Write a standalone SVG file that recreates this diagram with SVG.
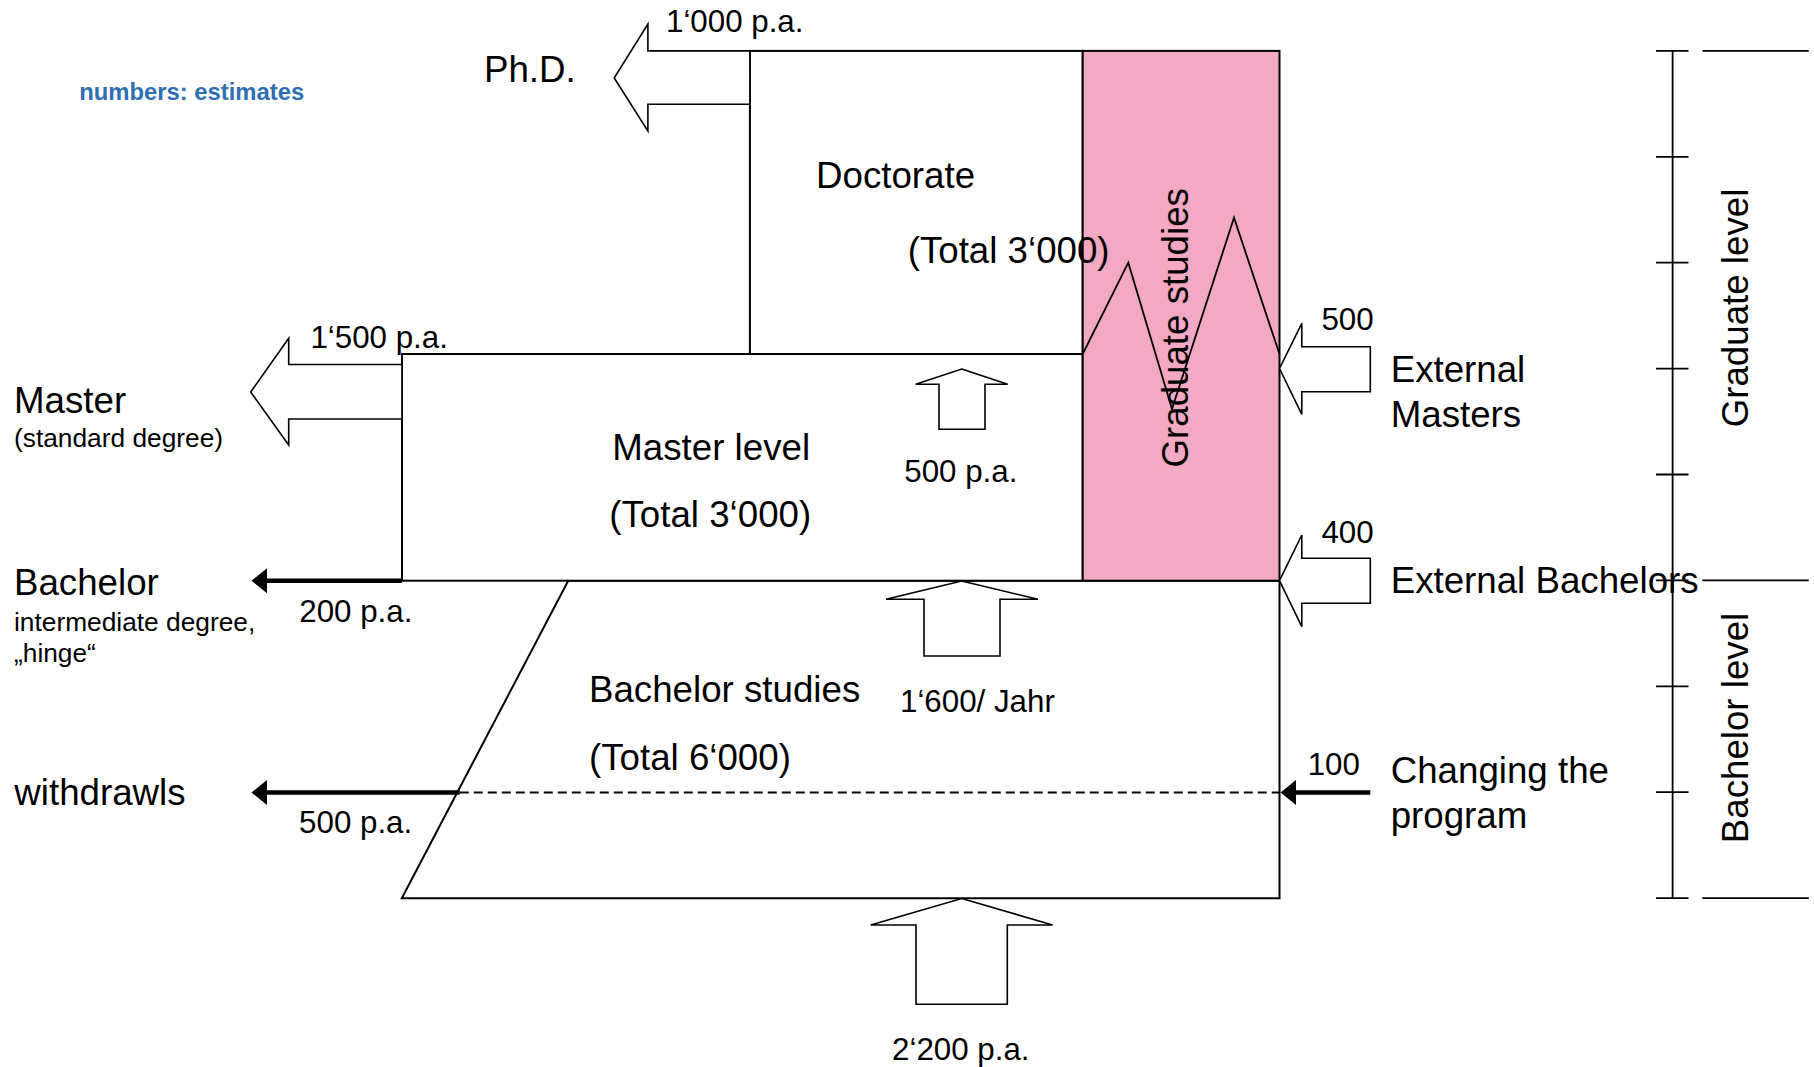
<svg xmlns="http://www.w3.org/2000/svg" width="1814" height="1067" viewBox="0 0 1814 1067">
<style>
text{font-family:"Liberation Sans",Arial,sans-serif;fill:#000}
.big{font-size:36.7px}
.num{font-size:31.3px}
.sub{font-size:26.3px}
.box{fill:#fff;stroke:#000;stroke-width:2}
.blk{fill:#fff;stroke:#000;stroke-width:1.6;stroke-linejoin:miter}
.thick{stroke:#000;stroke-width:4.5;fill:none}
.ln{stroke:#000;stroke-width:1.8;fill:none}
</style>
<defs>
<marker id="ah" markerUnits="userSpaceOnUse" markerWidth="16" markerHeight="26" refX="0" refY="12.5" orient="auto" overflow="visible">
<path d="M0,0 L15.5,12.5 L0,25 Z" fill="#000"/>
</marker>
</defs>
<rect width="1814" height="1067" fill="#fff"/>

<g id="bachelor-studies">
<polygon class="box" points="568.2,580.7 1279.5,580.7 1279.5,898.3 401.8,898.3"/>
<text class="big" x="589" y="701.7">Bachelor studies</text>
<text class="big" x="589" y="770">(Total 6‘000)</text>
</g>

<g id="master-level">
<rect class="box" x="402" y="354" width="680.7" height="226.7"/>
<text class="big" x="612.3" y="460">Master level</text>
<text class="big" x="609.3" y="526.7">(Total 3‘000)</text>
</g>

<g id="doctorate">
<rect class="box" x="749.9" y="50.9" width="332.8" height="303.1"/>
<text class="big" x="816" y="188.3">Doctorate</text>
</g>

<g id="graduate-studies">
<rect x="1082.7" y="50.9" width="196.8" height="529.8" fill="#F3A9C3" stroke="#000" stroke-width="2"/>
<text class="big" transform="translate(1188,327.8) rotate(-90)" text-anchor="middle">Graduate studies</text>
<polyline class="ln" points="1082.7,354 1128.3,262.7 1172,409 1234,217.7 1279.5,354"/>
</g>
<text class="big" x="907.7" y="263.3">(Total 3‘000)</text>

<g id="connectors">
<polygon class="blk" points="614.2,78 647.9,24 647.9,50.9 749.9,50.9 749.9,104.3 647.9,104.3 647.9,131"/>
<polygon class="blk" points="250.7,392 288.7,338.3 288.7,364.5 402,364.5 402,419 288.7,419 288.7,445"/>
<polygon class="blk" points="1279.5,368.5 1301.8,323.3 1301.8,346.7 1370.3,346.7 1370.3,391.7 1301.8,391.7 1301.8,414.3"/>
<polygon class="blk" points="1279.5,580.7 1301.8,535 1301.8,558.3 1370.3,558.3 1370.3,603.3 1301.8,603.3 1301.8,626.7"/>
<polygon class="blk" points="961.7,369 1007.7,384.3 985,384.3 985,429.3 939,429.3 939,384.3 915.7,384.3"/>
<polygon class="blk" points="961.7,581 1038,599.3 1000,599.3 1000,656 924,656 924,599.3 886,599.3"/>
<polygon class="blk" points="961.7,898.5 1052.7,925 1007.3,925 1007.3,1004.3 916,1004.3 916,925 870.7,925"/>
<line class="thick" x1="402" y1="580.7" x2="267" y2="580.7" marker-end="url(#ah)"/>
<line class="thick" x1="459.8" y1="792.5" x2="267" y2="792.5" marker-end="url(#ah)"/>
<line class="thick" x1="1370.3" y1="792.5" x2="1296" y2="792.5" marker-end="url(#ah)"/>
<line x1="459.8" y1="792.5" x2="1279.5" y2="792.5" stroke="#000" stroke-width="2" stroke-dasharray="9 5"/>
</g>

<g id="scale">
<line class="ln" x1="1672.6" y1="50.9" x2="1672.6" y2="898.1"/>
<path class="ln" d="M1656,50.9H1688.5M1656,156.8H1688.5M1656,262.7H1688.5M1656,368.6H1688.5M1656,474.5H1688.5M1656,580.4H1688.5M1656,686.3H1688.5M1656,792.2H1688.5M1656,898.1H1688.5"/>
<path class="ln" d="M1702.4,50.9H1808.8M1702.4,580.4H1808.8M1702.4,898.1H1808.8"/>
<text class="big" transform="translate(1748,308) rotate(-90)" text-anchor="middle">Graduate level</text>
<text class="big" transform="translate(1748,728) rotate(-90)" text-anchor="middle">Bachelor level</text>
</g>

<g id="labels">
<text x="79.3" y="100" style="font-size:23.8px;font-weight:bold;fill:#2F6DB5">numbers: estimates</text>
<text class="big" x="484" y="81.7">Ph.D.</text>
<text class="num" x="666" y="31.7">1‘000 p.a.</text>
<text class="num" x="310.4" y="348.3">1‘500 p.a.</text>
<text class="big" x="14" y="412.7">Master</text>
<text class="sub" x="14" y="447.3">(standard degree)</text>
<text class="big" x="14" y="595">Bachelor</text>
<text class="sub" x="14" y="630.7">intermediate degree,</text>
<text class="sub" x="14" y="661.7">„hinge“</text>
<text class="num" x="299.3" y="621.7">200 p.a.</text>
<text class="big" x="14.3" y="805">withdrawls</text>
<text class="num" x="299.1" y="833.3">500 p.a.</text>
<text class="num" x="960.8" y="481.7" text-anchor="middle">500 p.a.</text>
<text class="num" x="900" y="711.7">1‘600/ Jahr</text>
<text class="num" x="960.8" y="1060" text-anchor="middle">2‘200 p.a.</text>
<text class="num" x="1321.4" y="330">500</text>
<text class="big" x="1390.7" y="381.7">External</text>
<text class="big" x="1390.7" y="426.7">Masters</text>
<text class="num" x="1321.4" y="542.7">400</text>
<text class="big" x="1390.7" y="593.3">External Bachelors</text>
<text class="num" x="1307.7" y="775">100</text>
<text class="big" x="1390.7" y="782.7">Changing the</text>
<text class="big" x="1390.7" y="827.7">program</text>
</g>
</svg>
